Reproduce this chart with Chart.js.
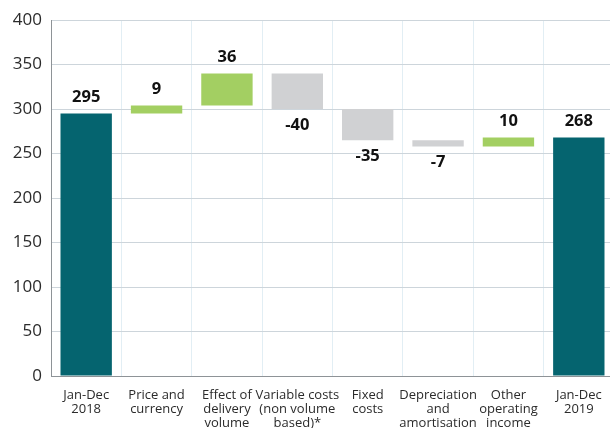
<!DOCTYPE html>
<html>
<head>
<meta charset="utf-8">
<script src="https://cdn.jsdelivr.net/npm/chart.js@4/dist/chart.umd.min.js"></script>
<style>
  html, body { margin: 0; padding: 0; overflow: hidden; background: #ffffff; width: 610px; height: 428px; }
  #wrap { position: absolute; left: 0; top: 0; width: 614px; height: 434px; }
</style>
</head>
<body>
<div id="wrap"><canvas id="c" width="614" height="434"></canvas></div>
<script>
const categories = [
  ["Jan-Dec", "2018"],
  ["Price and", "currency"],
  ["Effect of", "delivery", "volume"],
  ["Variable costs", "(non volume", "based)*"],
  ["Fixed", "costs"],
  ["Depreciation", "and", "amortisation"],
  ["Other", "operating", "income"],
  ["Jan-Dec", "2019"]
];
const changes = [295, 9, 36, -40, -35, -7, 10, 268];
const isTotal = [true, false, false, false, false, false, false, true];
const yTicks = [0, 50, 100, 150, 200, 250, 300, 350, 400];

const COLOR_TOTAL = '#05646f';
const COLOR_UP = '#a3cf62';
const COLOR_DOWN = '#d0d1d3';

// Build floating ranges from the change values
const ranges = [];
let running = 0;
changes.forEach((v, i) => {
  if (isTotal[i]) { ranges.push([0, v]); running = v; }
  else { ranges.push([running, running + v]); running += v; }
});
const colors = changes.map((v, i) => isTotal[i] ? COLOR_TOTAL : (v >= 0 ? COLOR_UP : COLOR_DOWN));

const labelPlugin = {
  id: 'valueLabels',
  afterDatasetsDraw(chart) {
    const ctx = chart.ctx;
    const meta = chart.getDatasetMeta(0);
    ctx.save();
    ctx.font = 'bold 16.5px "Open Sans", sans-serif';
    ctx.fillStyle = '#111111';
    ctx.textAlign = 'center';
    ctx.textBaseline = 'middle';
    meta.data.forEach((bar, i) => {
      const top = Math.min(bar.y, bar.base);
      const bottom = Math.max(bar.y, bar.base);
      const v = changes[i];
      if (v >= 0) ctx.fillText(String(v), bar.x, top - 16);
      else ctx.fillText(String(v), bar.x, bottom + 16);
    });
    ctx.restore();
  }
};

new Chart(document.getElementById('c'), {
  type: 'bar',
  data: {
    labels: categories,
    datasets: [{
      data: ranges,
      backgroundColor: colors,
      borderWidth: 0,
      barPercentage: 0.73,
      categoryPercentage: 1.0
    }]
  },
  options: {
    responsive: false,
    animation: false,
    devicePixelRatio: 1,
    layout: { padding: { top: 20, left: 0, right: 0, bottom: 0 } },
    plugins: { legend: { display: false }, tooltip: { enabled: false } },
    scales: {
      x: {
        grid: { color: '#e2eef4', drawTicks: false, lineWidth: 1 },
        border: { color: '#8e9397', width: 1 },
        ticks: {
          color: '#2b2b2b',
          font: { family: '"Open Sans", sans-serif', size: 13, lineHeight: 1.08 },
          padding: 12,
          maxRotation: 0,
          autoSkip: false
        },
        afterFit(scale) { scale.height = 58; }
      },
      y: {
        min: 0, max: 400,
        afterBuildTicks(scale) { scale.ticks = yTicks.map(v => ({ value: v })); },
        grid: { color: '#cdd5db', drawTicks: false, lineWidth: 1 },
        border: { color: '#8e9397', width: 1 },
        ticks: {
          color: '#2b2b2b',
          font: { family: '"Open Sans", sans-serif', size: 17 },
          padding: 9
        },
        afterFit(scale) { scale.width = 51; }
      }
    }
  },
  plugins: [labelPlugin]
});
</script>
</body>
</html>
